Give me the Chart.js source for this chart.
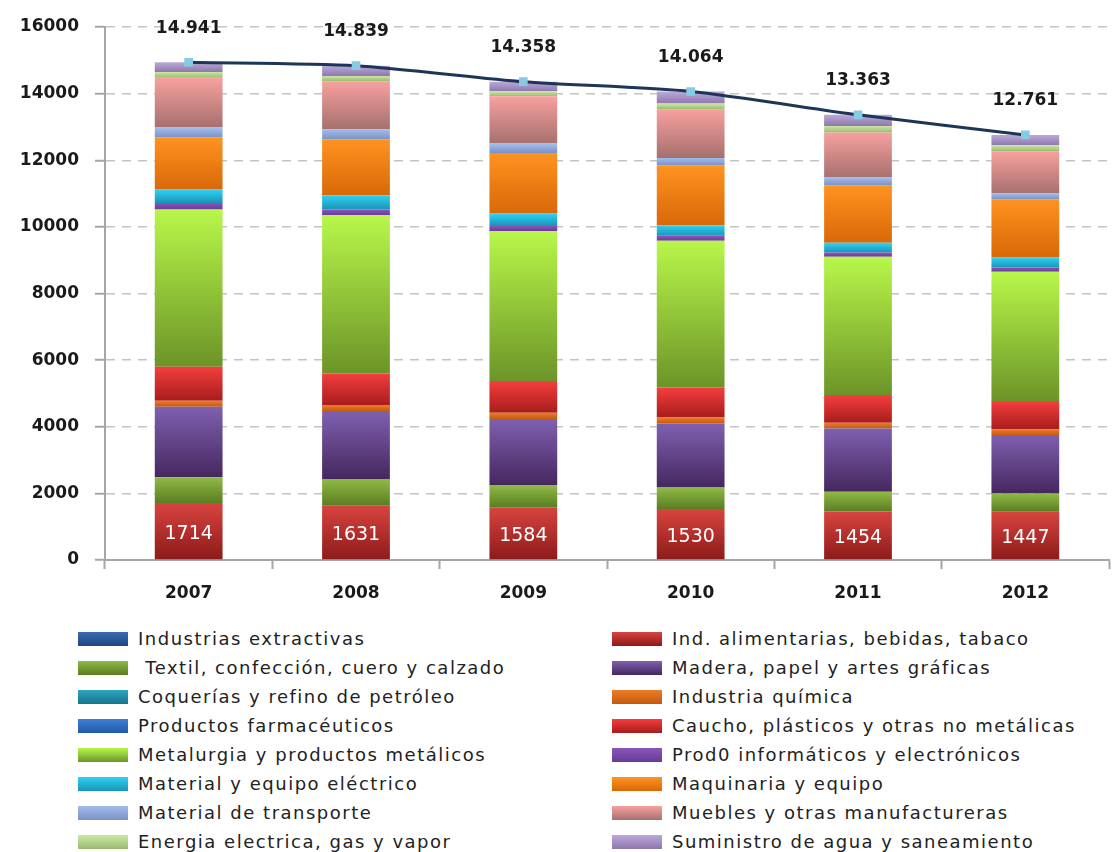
<!DOCTYPE html>
<html>
<head>
<meta charset="utf-8">
<script src="https://cdn.jsdelivr.net/npm/chart.js@4/dist/chart.umd.min.js"></script>
<style>
    body { margin: 0; background: #fff; }
    #wrap { position: relative; width: 1116px; height: 852px; }
    #chart-box { position: absolute; left: 0; top: 0; width: 1116px; height: 615px; }
    #legend {
        position: absolute; left: 78px; top: 624px; width: 1038px;
        display: grid; grid-template-columns: 534px 504px;
        font-family: 'DejaVu Sans', sans-serif; font-size: 18px; letter-spacing: 1.5px; color: #222;
    }
    .item { display: flex; align-items: center; height: 29px; white-space: pre; }
    .sw { width: 50px; height: 14px; margin-right: 10px; flex: none; }
</style>
</head>
<body>
<div id="wrap">
    <div id="chart-box"><canvas id="chart"></canvas></div>
    <div id="legend"></div>
</div>
<script>
// ===================== DATA =====================

const years = ['2007', '2008', '2009', '2010', '2011', '2012'];

const extractivas   = [0, 0, 0, 0, 0, 0];
const alimentarias  = [1714, 1631, 1584, 1530, 1454, 1447];
const textil        = [767, 800, 666, 650, 596, 553];
const madera        = [2119, 2040, 1980, 1920, 1900, 1750];
const coquerias     = [0, 0, 0, 0, 0, 0];
const quimica       = [180, 180, 190, 180, 170, 170];
const farmaceuticos = [0, 0, 0, 0, 0, 0];
const caucho        = [1020, 950, 950, 900, 830, 850];
const metalurgia    = [4720, 4750, 4500, 4400, 4150, 3880];
const informaticos  = [200, 170, 160, 150, 130, 130];
const electrico     = [400, 430, 370, 320, 290, 300];
const maquinaria    = [1560, 1680, 1820, 1800, 1730, 1750];
const transporte    = [300, 300, 280, 220, 230, 170];
const muebles       = [1500, 1440, 1420, 1460, 1350, 1270];
const energia       = [170, 160, 150, 170, 200, 180];
const agua          = [291, 308, 288, 364, 333, 311];

const totals = [14941, 14839, 14358, 14064, 13363, 12761];

// name, values, light (top), dark (bottom)
const series = [
    ['Industrias extractivas',                  extractivas,   '#3b6db0', '#1c4580'],
    ['Ind. alimentarias, bebidas, tabaco',      alimentarias,  '#d8443f', '#8c1a1a'],
    [' Textil, confección, cuero y calzado',    textil,        '#8fba46', '#5b7d22'],
    ['Madera, papel y artes gráficas',          madera,        '#7f60b0', '#45275f'],
    ['Coquerías y refino de petróleo',          coquerias,     '#2ea4c0', '#17748c'],
    ['Industria química',                       quimica,       '#ec7d2a', '#c45a0e'],
    ['Productos farmacéuticos',                 farmaceuticos, '#3f7fd6', '#2159a8'],
    ['Caucho, plásticos y otras no metálicas',  caucho,        '#f43e3e', '#a81c1c'],
    ['Metalurgia y productos metálicos',        metalurgia,    '#b8f74a', '#6c9428'],
    ['Prod0 informáticos y electrónicos',       informaticos,  '#8a55bb', '#683a98'],
    ['Material y equipo eléctrico',             electrico,     '#30d2f4', '#1a94b6'],
    ['Maquinaria y equipo',                     maquinaria,    '#ff9320', '#d96808'],
    ['Material de transporte',                  transporte,    '#a2bcec', '#7a93c4'],
    ['Muebles y otras manufactureras',          muebles,       '#f7a19f', '#a6706e'],
    ['Energia electrica, gas y vapor',          energia,       '#cde6a6', '#98bb6e'],
    ['Suministro de agua y saneamiento',        agua,          '#bba8d8', '#8e78ad']
];

// ===================== HELPERS =====================

function fmtThousands(v) {
    return Math.floor(v / 1000) + '.' + String(v % 1000).padStart(3, '0');
}

// vertical gradient per bar segment (Excel-like shading)
function segmentFill(si) {
    const light = series[si][2], dark = series[si][3];
    return (c) => {
        if (c.type !== 'data') return dark;
        const y = c.chart.scales.y;
        if (!y) return dark;
        let base = 0;
        for (let k = 0; k < si; k++) base += series[k][1][c.dataIndex];
        const top = base + series[si][1][c.dataIndex];
        const y0 = y.getPixelForValue(base), y1 = y.getPixelForValue(top);
        if (!isFinite(y0) || !isFinite(y1) || Math.abs(y0 - y1) < 0.5) return dark;
        const g = c.chart.ctx.createLinearGradient(0, y1, 0, y0);
        g.addColorStop(0, light);
        g.addColorStop(1, dark);
        return g;
    };
}

const labelPlugin = {
    id: 'valueLabels',
    afterDatasetsDraw(chart) {
        const ctx = chart.ctx;
        ctx.save();
        ctx.textAlign = 'center';
        ctx.textBaseline = 'middle';

        // white values inside the bottom segment
        const foodMeta = chart.getDatasetMeta(1);
        ctx.fillStyle = '#ffffff';
        ctx.font = '19px "DejaVu Sans"';
        foodMeta.data.forEach((bar, i) => {
            ctx.fillText(String(alimentarias[i]), bar.x, (bar.y + bar.base) / 2 + 3);
        });

        // totals above the line
        const lineMeta = chart.getDatasetMeta(series.length);
        ctx.fillStyle = '#1a1a1a';
        ctx.font = 'bold 17px "DejaVu Sans"';
        lineMeta.data.forEach((pt, i) => {
            ctx.fillText(fmtThousands(totals[i]), pt.x, pt.y - 34);
        });
        ctx.restore();
    }
};

// ===================== CHART =====================

const datasets = series.map((s, i) => ({
    type: 'bar',
    label: s[0],
    data: s[1],
    backgroundColor: segmentFill(i),
    borderWidth: 0,
    barPercentage: 1,
    categoryPercentage: 0.405,
    stack: 'industria',
    order: 1
}));

datasets.push({
    type: 'line',
    label: 'Total',
    data: totals,
    stack: 'total',
    borderColor: '#1d3658',
    borderWidth: 3,
    tension: 0.25,
    pointStyle: 'rect',
    pointRadius: 4,
    pointBackgroundColor: '#86cbe6',
    pointBorderColor: '#86cbe6',
    order: 0
});

const axisFont = { family: 'DejaVu Sans', size: 17, weight: 'bold' };

new Chart(document.getElementById('chart'), {
    data: { labels: years, datasets },
    options: {
        responsive: true,
        maintainAspectRatio: false,
        animation: false,
        layout: { padding: { top: 27, right: 0, left: 0, bottom: 0 } },
        plugins: {
            legend: { display: false },
            tooltip: { enabled: false }
        },
        scales: {
            x: {
                stacked: true,
                grid: {
                    offset: true,
                    drawOnChartArea: false,
                    drawTicks: true,
                    tickLength: 9,
                    tickColor: '#a6a6a6',
                    tickWidth: 2
                },
                border: { color: '#a6a6a6', width: 2 },
                ticks: { color: '#1a1a1a', font: axisFont, padding: 14 },
                afterFit: (s) => { s.height = 55; }
            },
            y: {
                stacked: true,
                min: 0,
                max: 16000,
                grid: {
                    color: '#c4c4c4',
                    lineWidth: 1.5,
                    tickLength: 10,
                    tickColor: '#a6a6a6',
                    tickWidth: 2
                },
                border: { color: '#a6a6a6', width: 2, dash: [9, 7] },
                ticks: {
                    stepSize: 2000,
                    color: '#1a1a1a',
                    font: axisFont,
                    padding: 16,
                    callback: (v) => String(v)
                },
                afterFit: (s) => { s.width = 105; }
            }
        }
    },
    plugins: [labelPlugin]
});

// ===================== LEGEND (two columns) =====================

const legend = document.getElementById('legend');
series.forEach((s) => {
    const item = document.createElement('div');
    item.className = 'item';
    const sw = document.createElement('span');
    sw.className = 'sw';
    sw.style.background = `linear-gradient(${s[2]}, ${s[3]})`;
    const txt = document.createElement('span');
    txt.textContent = s[0];
    item.appendChild(sw);
    item.appendChild(txt);
    legend.appendChild(item);
});
</script>
</body>
</html>
